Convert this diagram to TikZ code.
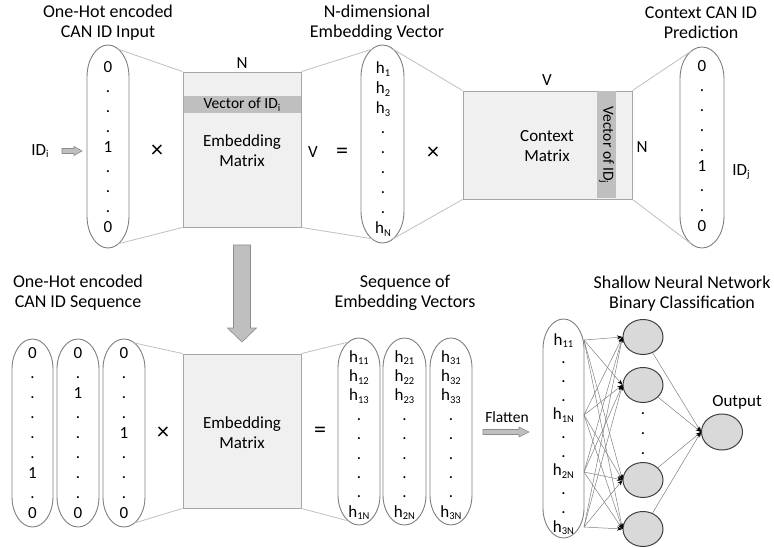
\documentclass[tikz,border=0pt]{standalone}
\usepackage{fontspec}
\setmainfont{Carlito}
\usetikzlibrary{arrows.meta,shapes.geometric}
\definecolor{boxfill}{HTML}{F0F0F0}
\definecolor{boxline}{HTML}{A6A6A6}
\definecolor{band}{HTML}{BFBFBF}
\definecolor{capline}{HTML}{7F7F7F}
\definecolor{linkline}{HTML}{BFBFBF}
\definecolor{nodefill}{HTML}{D9D9D9}
\definecolor{neuronline}{HTML}{404040}
\definecolor{edgeline}{HTML}{808080}
\definecolor{arrfill}{HTML}{BFBFBF}
\definecolor{arrline}{HTML}{8C8C8C}
\newcommand{\sbs}[1]{\raisebox{-2.6pt}{\fontsize{10.5}{10.5}\selectfont #1}}
% name, x1, x2, ytop, ybot, end radius
\newcommand{\capsule}[6]{%
  \draw[capsule] (#2,#4+#6) arc[start angle=180,end angle=360,x radius={(#3-#2)/2},y radius=#6]
    -- (#3,#5-#6) arc[start angle=0,end angle=180,x radius={(#3-#2)/2},y radius=#6] -- cycle;
  \coordinate (#1-ne) at ({(#2+#3)/2+(#3-#2)/4},{#4+0.134*#6});
  \coordinate (#1-nw) at ({(#2+#3)/2-(#3-#2)/4},{#4+0.134*#6});
  \coordinate (#1-se) at ({(#2+#3)/2+(#3-#2)/4},{#5-0.134*#6});
  \coordinate (#1-sw) at ({(#2+#3)/2-(#3-#2)/4},{#5-0.134*#6});
}
\begin{document}
\begin{tikzpicture}[x=1pt,y=-1pt,
  every node/.style={inner sep=0pt,font=\fontsize{17}{20}\selectfont},
  title/.style={align=center,font=\fontsize{18}{20}\selectfont},
  lbl/.style={align=center},
  cell/.style={anchor=base},
  op/.style={font=\fontsize{24}{24}\selectfont},
  capsule/.style={draw=capline,line width=0.9pt},
  mbox/.style={draw=boxline,fill=boxfill,line width=0.9pt},
  bandbox/.style={fill=band},
  link/.style={draw=linkline,line width=0.8pt},
  blockarrow/.style={draw=arrline,fill=arrfill,line width=0.6pt,line join=miter},
  neuron/.style={ellipse,draw=neuronline,fill=nodefill,line width=1pt,minimum width=40pt,minimum height=35pt},
  nnedge/.style={draw=edgeline,line width=0.5pt,-{Stealth[length=5.5pt,width=4pt,color=black]}},
]
\useasboundingbox (0,0) rectangle (774,548);

% titles
\node[title] (t1) at (108,23) {One-Hot encoded\\CAN ID Input};
\node[title] (t2) at (377,23) {N-dimensional\\Embedding Vector};
\node[title] (t3) at (701,23) {Context CAN ID\\Prediction};
\node[title] (t4) at (78,293) {One-Hot encoded\\CAN ID Sequence};
\node[title] (t5) at (405,293) {Sequence of\\Embedding Vectors};
\node[title] (t6) at (682,294) {Shallow Neural Network\\Binary Classification};

% matrices
\node[mbox,minimum width=118pt,minimum height=155pt] (emb) at (242,149.5) {};
\node[bandbox,minimum width=117pt,minimum height=17pt] (band1) at (242,104.5) {};
\node[font=\fontsize{15.5}{18}\selectfont] (band1t) at (242,104.5) {Vector of ID\sbs{i}};
\node[lbl] (embt) at (242,151) {Embedding\\Matrix};

\node[mbox,minimum width=169pt,minimum height=108pt] (ctx) at (547.5,145) {};
\node[bandbox,minimum width=19pt,minimum height=107pt] (band2) at (606.5,145) {};
\node[rotate=-90,font=\fontsize{15.5}{18}\selectfont] (band2t) at (606.5,145) {Vector of ID\sbs{j}};
\node[lbl] (ctxt) at (547,146) {Context\\Matrix};

\node[mbox,minimum width=118pt,minimum height=154pt] (emb2) at (242,431) {};
\node[lbl] (emb2t) at (242,433) {Embedding\\Matrix};

% capsules
\capsule{capA}{87}{129}{45}{248}{32}
\capsule{capB}{361}{404}{45}{243}{32}
\capsule{capC}{680}{724}{47}{248}{32}
\capsule{capD1}{12}{53}{339}{527}{30}
\capsule{capD2}{57}{99}{339}{527}{30}
\capsule{capD3}{103}{145}{339}{527}{30}
\capsule{capE1}{338}{380}{338}{525}{30}
\capsule{capE2}{383}{426}{338}{525}{30}
\capsule{capE3}{430}{472}{338}{525}{30}
\capsule{capF}{543}{584}{319}{538}{30}

% capsule contents
\foreach \t [count=\k from 0] in {0,.,.,.,1,.,.,.,0}
  \node[cell] (a\k) at (108,73+20*\k) {\t};
\foreach \t [count=\k from 0] in {h\sbs{1},h\sbs{2},h\sbs{3},.,.,.,.,.,h\sbs{N}}
  \node[cell] (b\k) at (383,74+20*\k) {\t};
\foreach \t [count=\k from 0] in {0,.,.,.,.,1,.,.,0}
  \node[cell] (c\k) at (702,72+20*\k) {\t};
\foreach \t [count=\k from 0] in {0,.,.,.,.,.,1,.,0}
  \node[cell] (da\k) at (32.5,358+20*\k) {\t};
\foreach \t [count=\k from 0] in {0,.,1,.,.,.,.,.,0}
  \node[cell] (db\k) at (78,358+20*\k) {\t};
\foreach \t [count=\k from 0] in {0,.,.,.,1,.,.,.,0}
  \node[cell] (dc\k) at (124,358+20*\k) {\t};
\foreach \t [count=\k from 0] in {h\sbs{11},h\sbs{12},h\sbs{13},.,.,.,.,.,h\sbs{1N}}
  \node[cell] (ea\k) at (359,362+19.4*\k) {\t};
\foreach \t [count=\k from 0] in {h\sbs{21},h\sbs{22},h\sbs{23},.,.,.,.,.,h\sbs{2N}}
  \node[cell] (eb\k) at (404.5,362+19.4*\k) {\t};
\foreach \t [count=\k from 0] in {h\sbs{31},h\sbs{32},h\sbs{33},.,.,.,.,.,h\sbs{3N}}
  \node[cell] (ec\k) at (451,362+19.4*\k) {\t};
\foreach \t [count=\k from 0] in {h\sbs{11},.,.,.,h\sbs{1N},.,.,h\sbs{2N},.,.,h\sbs{3N}}
  \node[cell] (f\k) at (563.5,345+18.7*\k) {\t};

% projection lines
\draw[link] (capA-ne) -- (emb.north west);
\draw[link] (capA-se) -- (emb.south west);
\draw[link] (emb.north east) -- (capB-nw);
\draw[link] (emb.south east) -- (capB-sw);
\draw[link] (capB-ne) -- (ctx.north west);
\draw[link] (capB-se) -- (ctx.south west);
\draw[link] (ctx.north east) -- (capC-nw);
\draw[link] (ctx.south east) -- (capC-sw);
\draw[link] (capD3-ne) -- (emb2.north west);
\draw[link] (capD3-se) -- (emb2.south west);
\draw[link] (emb2.north east) -- (capE1-nw);
\draw[link] (emb2.south east) -- (capE1-sw);

% operators and labels
\node[op] (x1) at (157,151) {×};
\node[op] (x2) at (433,153) {×};
\node[op] (x3) at (163,433) {×};
\node[op] (eq1) at (342,153) {=};
\node[op] (eq2) at (320,432) {=};
\node (v1) at (313,152) {V};
\node (v2) at (547,80) {V};
\node (n1) at (242,63) {N};
\node (n2) at (642,147) {N};
\node (idi) at (40,151) {ID\sbs{i}};
\node (idj) at (741,172) {ID\sbs{j}};
\node[font=\fontsize{15.5}{18}\selectfont] (flat) at (507,417) {Flatten};

% block arrows
\draw[blockarrow] (62,148.5) -- (74,148.5) -- (74,146.5) -- (82,151) -- (74,155.5) -- (74,153.5) -- (62,153.5) -- cycle;
\draw[blockarrow] (483,429.5) -- (519,429.5) -- (519,427) -- (529,432) -- (519,437) -- (519,434.5) -- (483,434.5) -- cycle;
\draw[blockarrow] (233.5,245) -- (250.5,245) -- (250.5,328) -- (256.5,328) -- (242,342) -- (227.5,328) -- (233.5,328) -- cycle;

% neural network
\node[neuron] (h1) at (643,337) {};
\node[neuron] (h2) at (643,385) {};
\node[neuron] (h3) at (643,480) {};
\node[neuron] (h4) at (643,529) {};
\node[neuron,minimum width=41pt,minimum height=36pt] (out) at (722,432) {};
\node (outl) at (737,402) {Output};
\node[cell] (vd1) at (643,414) {.};
\node[cell] (vd2) at (643,434) {.};
\node[cell] (vd3) at (643,454) {.};
\coordinate (s1) at (584,340);
\coordinate (s2) at (584,415);
\coordinate (s3) at (584,472);
\coordinate (s4) at (584,527);
\foreach \s in {1,...,4}
  \foreach \h in {1,...,4}
    \draw[nnedge] (s\s) -- (h\h.west);
\foreach \h in {1,...,4}
  \draw[nnedge] (h\h) -- (out.west);
\end{tikzpicture}
\end{document}
